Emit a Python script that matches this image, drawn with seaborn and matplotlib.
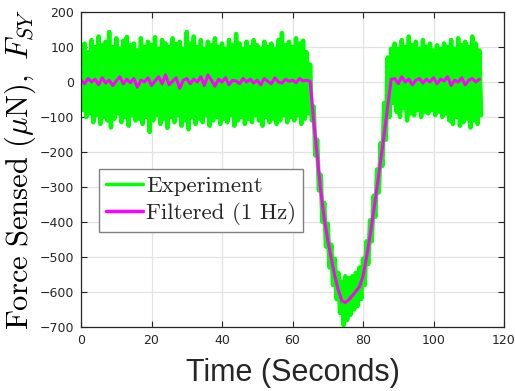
import numpy as np
import pandas as pd
import matplotlib
matplotlib.use("Agg")
import matplotlib.pyplot as plt
import seaborn as sns

# ---- data ----
# Experiment: local peaks (at t = 0, 1, ..., 113 s)
exp_peaks = [
    95, 110, 85, 120, 100, 130, 105, 115, 143, 100,
    125, 95, 118, 129, 105, 110, 90, 125, 100, 115,
    105, 128, 95, 120, 110, 100, 125, 108, 115, 95,
    143, 110, 130, 100, 120, 95, 115, 105, 125, 100,
    110, 95, 120, 105, 137, 110, 95, 115, 100, 120,
    105, 95, 115, 100, 110, 95, 120, 140, 105, 115,
    100, 125, 110, 118, 85,
    50, -70, -165, -265, -345, -405, -465, -505, -545, -570,
    -555, -560, -555, -545, -530, -505, -455, -395, -325, -250,
    -175, -60, 70, 95,
    110, 95, 120, 100, 130, 105, 115, 95, 120, 100,
    110, 90, 105, 95, 110, 100, 120, 95, 125, 105,
    115, 100, 130, 110, 90,
]
# Experiment: local troughs (at t = 0.5, 1.5, ..., 113.5 s)
exp_troughs = [
    -80, -100, -90, -115, -95, -120, -100, -110, -130, -105,
    -90, -115, -100, -125, -95, -110, -105, -120, -100, -143,
    -110, -95, -120, -105, -131, -100, -115, -95, -125, -110,
    -135, -100, -120, -105, -115, -95, -125, -110, -100, -120,
    -105, -115, -95, -125, -110, -100, -120, -105, -115, -95,
    -110, -125, -100, -115, -105, -120, -110, -95, -115, -100,
    -110, -95, -120, -105, -90,
    -110, -210, -310, -400, -470, -530, -580, -620, -660, -695,
    -680, -665, -650, -640, -620, -580, -520, -455, -385, -315,
    -240, -165, -100,
    -60, -85, -100, -75, -110, -90, -95, -80, -100, -85,
    -90, -80, -95, -85, -100, -90, -110, -120, -100, -125,
    -115, -105, -130, -110, -120, -95,
]
# Filtered (1 Hz), at t = 0, 1, ..., 113 s
filtered = [
    5, -5, 10, 0, 8, -8, 12, -3, 5, -10,
    3, 15, -5, 8, -2, 10, -15, 5, 0, 12,
    -10, 3, 15, -5, 20, -8, 2, 12, -18, 5,
    10, -5, 8, 0, 15, -10, 20, 5, -12, 8,
    0, 12, -8, 5, 3, -5, 10, 0, 8, -3,
    5, -8, 10, 2, -5, 12, 0, -3, 8, 2,
    5, -2, 10, 3, 5,
    2, -110, -210, -310, -390, -450, -505, -555, -595, -625,
    -630, -622, -610, -598, -585, -555, -500, -440, -370, -300,
    -225, -150, -70, 8,
    10, -5, 15, 0, 8, -8, 5, 10, -3, 8, 0,
    12, -5, 8, 3, 15, -10, 5, 0, 12, -8, 5, 10, 0, 8,
]
x_ticks = [0, 20, 40, 60, 80, 100, 120]
y_ticks = [-700, -600, -500, -400, -300, -200, -100, 0, 100, 200]
labels = ["Experiment", "Filtered (1 Hz)"]

# build tables
t_peaks = np.arange(len(exp_peaks), dtype=float)
t_troughs = np.arange(len(exp_troughs), dtype=float) + 0.5
t_exp = np.empty(len(exp_peaks) + len(exp_troughs))
y_exp = np.empty_like(t_exp)
t_exp[0::2] = t_peaks
t_exp[1::2] = t_troughs
y_exp[0::2] = exp_peaks
y_exp[1::2] = exp_troughs
df_exp = pd.DataFrame({"t": t_exp, "F": y_exp})
df_fil = pd.DataFrame({"t": np.arange(len(filtered), dtype=float), "F": filtered})

sns.set_theme(style="ticks")
plt.rcParams["mathtext.fontset"] = "cm"

fig = plt.figure(figsize=(5.15, 3.91), dpi=100)
ax = fig.add_axes([81 / 515, 64 / 391, 423 / 515, 315 / 391])

sns.lineplot(data=df_exp, x="t", y="F", ax=ax, color="#00ff00", lw=3.2,
             estimator=None, sort=False, label=labels[0])
sns.lineplot(data=df_fil, x="t", y="F", ax=ax, color="#ff00ff", lw=2.2,
             estimator=None, sort=False, label=labels[1])

ax.set_xlim(0, 120)
ax.set_ylim(-700, 200)
ax.set_xticks(x_ticks)
ax.set_yticks(y_ticks)
ax.grid(True, color="#e3e3e3", lw=0.9)
ax.set_axisbelow(True)
ax.tick_params(direction="in", top=True, right=True, length=4, width=0.8,
               labelsize=9, colors="#262626", pad=5)
for s in ax.spines.values():
    s.set_color("#262626")
    s.set_linewidth(0.9)

ax.set_xlabel("Time (Seconds)", fontsize=22, family="Liberation Sans",
              color="#262626", labelpad=8)
ax.set_ylabel(r"$\mathrm{Force\ Sensed\ (}\mu\mathrm{N}),\ F_{SY}$", fontsize=22,
              color="#000000", labelpad=1)

leg = ax.legend(loc="upper left", bbox_to_anchor=(18 / 423, (327 - 169) / 315),
                prop={"family": "cmr10", "size": 16.5}, frameon=True, fancybox=False,
                edgecolor="#808080", framealpha=1, handlelength=1.6,
                handletextpad=0.15, borderpad=0.3, labelspacing=0.25,
                borderaxespad=0)
leg.get_frame().set_linewidth(1.0)
for line in leg.get_lines():
    line.set_linewidth(2.5)

fig.savefig("out.png", dpi=100)
